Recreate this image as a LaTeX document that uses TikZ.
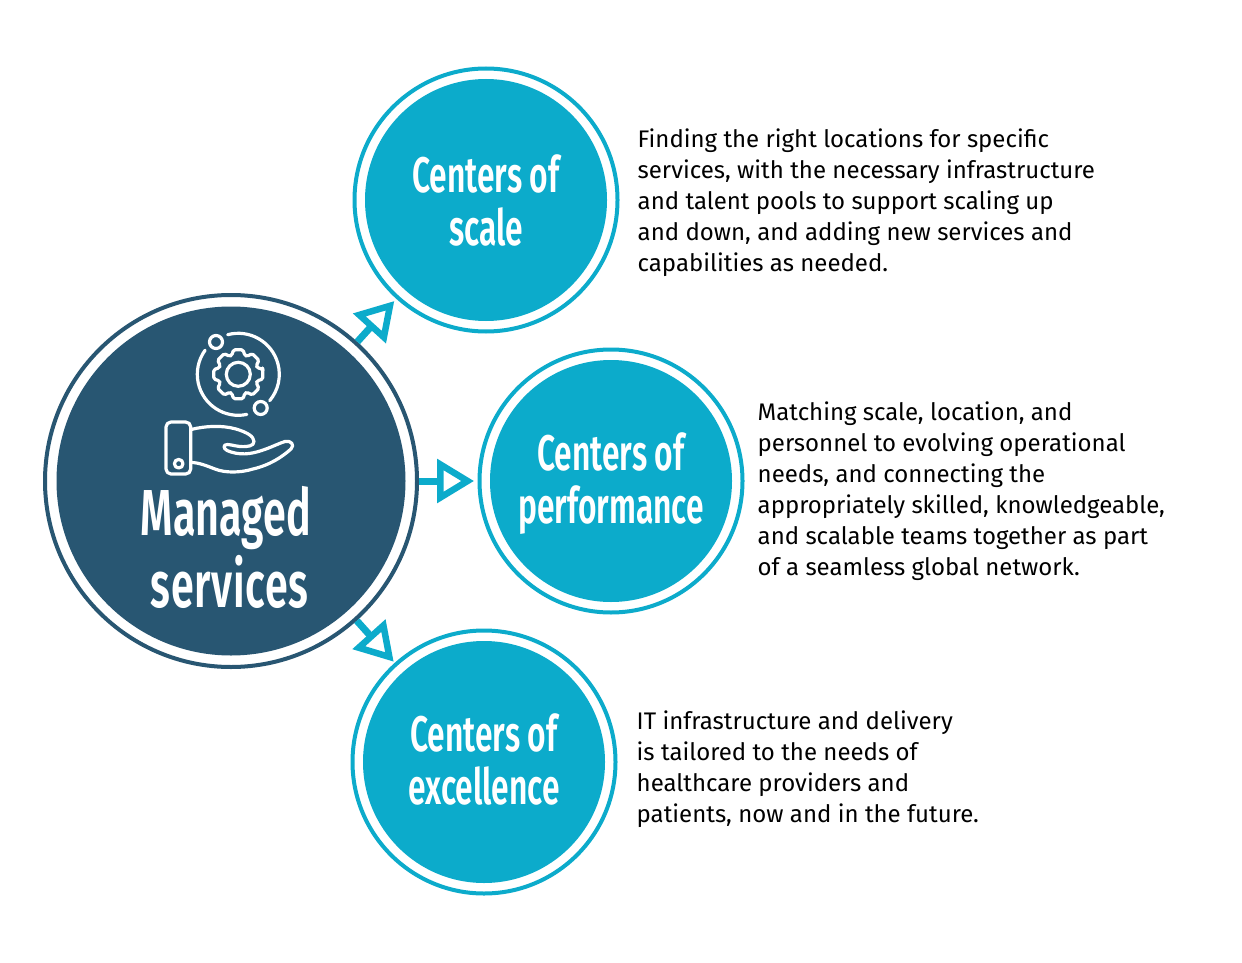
\documentclass[tikz,border=0pt]{standalone}
\usepackage{fontspec}
\usetikzlibrary{arrows.meta}
\setmainfont{Fira Sans}
\newfontfamily\titlefont[FakeStretch=0.635]{Fira Sans SemiBold}
\definecolor{navy}{HTML}{285672}
\definecolor{cyanb}{HTML}{0CABCB}
\tikzset{
  ring/.style={circle,draw=#1,line width=4pt,fill=white,inner sep=0pt,outer sep=0pt},
  core/.style={circle,fill=#1,inner sep=0pt,outer sep=0pt,minimum size=242pt},
  title/.style={text=white,align=center,font=\titlefont\fontsize{50}{53}\selectfont},
  body/.style={anchor=west,align=left,inner sep=0pt,text=black,font=\fontsize{24}{31}\selectfont},
  link/.style={draw=cyanb,line width=7pt,shorten <=2pt,-{Triangle[open,length=37pt,width=43pt,line width=6.5pt]}},
  icon/.style={draw=white,line width=3.2pt,line cap=round,line join=round}
}
\begin{document}
\begin{tikzpicture}[x=1pt,y=-1pt]
\useasboundingbox (0,0) rectangle (1242,963);
\node[ring=navy,minimum size=372pt] (bigring) at (231,481) {};
\node[core=navy,minimum size=349pt] (big) at (231,481) {};
\node[ring=cyanb,minimum size=263pt] (scalering) at (486,200) {};
\node[core=cyanb] (scale) at (486,200) {};
\node[ring=cyanb,minimum size=263pt] (perfring) at (611,481) {};
\node[core=cyanb] (perf) at (611,481) {};
\node[ring=cyanb,minimum size=263pt] (excring) at (484,762) {};
\node[core=cyanb] (exc) at (484,762) {};
\draw[link,shorten >=5pt] (bigring) -- (scalering);
\draw[link,shorten >=5.5pt] (bigring) -- (perfring);
\draw[link,shorten >=3.5pt] (bigring) -- (excring);
\node[title] (t1) at (486,200) {Centers of\\scale};
\node[title] (t2) at (611,484) {Centers of\\performance};
\node[title] (t3) at (484,759.5) {Centers of\\excellence};
\node[title,align=left,font=\titlefont\fontsize{65}{72}\selectfont] (t0) at (226,547) {Managed\\\hspace*{10pt}{\addfontfeature{LetterSpace=1}services}};
\node[body] (d1) at (637.5,203) {Finding the right locations for specific\\services, with the necessary infrastructure\\and talent pools to support scaling up\\and down, and adding new services and\\capabilities as needed.};
\node[body] (d2) at (757.5,491) {Matching scale, location, and\\personnel to evolving operational\\needs, and connecting the\\appropriately skilled, knowledgeable,\\and scalable teams together as part\\of a seamless global network.};
\node[body] (d3) at (636.5,769.5) {IT infrastructure and delivery\\is tailored to the needs of\\healthcare providers and\\patients, now and in the future.};
% icon
\coordinate (g) at (238.3,374.3);
\draw[icon] (g) ++(-105:41) arc[start angle=-105,end angle=40,radius=41];
\draw[icon] (g) ++(78:41) arc[start angle=78,end angle=216,radius=41];
\draw[icon] (216,342) circle[radius=6.5];
\draw[icon] (260.7,408) circle[radius=6.5];
\draw[icon] (g) circle[radius=12];
\draw[icon,rounded corners=1.6pt,shift={(238.3,374.3)}] (-12:25)
  \foreach \a in {0,45,...,315} { -- (\a-11:25) -- (\a+11:25) -- (\a+19:20) -- (\a+26:20) } -- cycle;
\draw[icon,rounded corners=5pt] (166,422) rectangle (190.7,474);
\draw[icon] (178.7,463.7) circle[radius=4.3];
\draw[icon] (191,429.5) .. controls (205,426) and (222,425) .. (236,429)
  .. controls (246,432) and (254,436) .. (254,441.5)
  .. controls (254,446) and (248,447) .. (240,446.5)
  .. controls (234,446) and (228,443.5) .. (225,445)
  .. controls (222.5,447) and (225,450.5) .. (231,452)
  .. controls (244,456) and (255,453) .. (266,449)
  .. controls (274,446) and (280,443) .. (285,441.5)
  .. controls (291,440) and (295,445) .. (291,449)
  .. controls (282,457) and (270,465) .. (253,469)
  .. controls (240,473) and (225,473) .. (215,469)
  .. controls (207,466) and (199,462.5) .. (191,462.5);
\end{tikzpicture}
\end{document}
